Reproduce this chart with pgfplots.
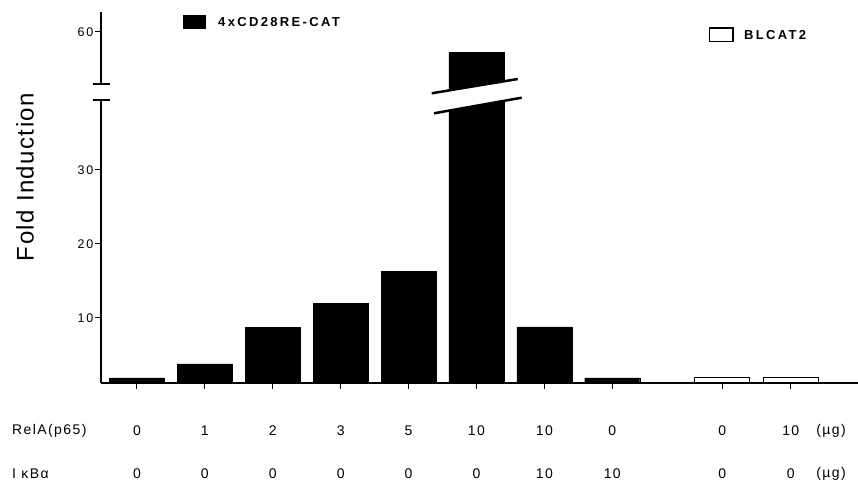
\documentclass[border=0pt]{standalone}
\usepackage{fontspec}
\setmainfont{Liberation Sans}
\usepackage{pgfplots}
\pgfplotsset{compat=1.18}
\newfontfamily\legfont[LetterSpace=18]{Liberation Sans Bold}
\newfontfamily\tickfont[LetterSpace=15]{Liberation Sans}
\newfontfamily\labfont[LetterSpace=10]{Liberation Sans}
\newfontfamily\ylabfont[LetterSpace=6]{Liberation Sans}
\begin{document}
\begin{tikzpicture}[x=1pt,y=1pt]
\path[use as bounding box] (0,0) rectangle (858,488);
\begin{axis}[
  at={(101pt,105pt)}, anchor=south west,
  scale only axis, width=757pt, height=371pt,
  xmin=-0.53, xmax=10.62,
  ymin=1.2, ymax=62.7,
  y coord trafo/.code={\pgfmathparse{ifthenelse(#1>45,#1-11.34,#1)}},
  y coord inv trafo/.code={\pgfmathparse{ifthenelse(#1>40.5,#1+11.34,#1)}},
  axis x line*=bottom, axis y line*=left,
  axis line style={line width=1.4pt},
  tick align=outside, major tick length=6pt,
  tick style={black, line width=1pt},
  ytick={10,20,30,60}, yticklabels={10,20,30,60},
  yticklabel style={font=\tickfont\fontsize{12.5}{14}\selectfont, inner sep=1.5pt},
  xtick={0,1,2,3,4,5,6,7,8.62,9.63},
  xticklabels={{0\\0},{1\\0},{2\\0},{3\\0},{5\\0},{10\\0},{10\\10},{0\\10},{0\\0},{10\\0}},
  xticklabel style={align=center, font=\labfont\fontsize{14}{43}\selectfont, yshift=-33pt},
  /pgf/number format/assume math mode=true,
  clip=true,
]
\addplot[ybar, bar shift=0pt, bar width=55pt, fill=black, draw=black]
  coordinates {(0,1.9) (1,3.8) (2,8.7) (3,12.0) (4,16.3) (5,57.2) (6,8.8) (7,1.9)};
\addplot[ybar, bar shift=0pt, bar width=55pt, fill=white, draw=black, line width=1.2pt]
  coordinates {(8.62,1.9) (9.63,1.9)};
\end{axis}
% axis break on y axis
\fill[white] (95,389) rectangle (108,403);
\draw[line width=2pt] (93,404) -- (110,404);
\draw[line width=2pt] (93,388) -- (110,388);
% break in the tall bar
\fill[white] (431.7,394.7) -- (517.7,409) -- (521.7,390.3) -- (434,374.7) -- cycle;
\draw[line width=2.5pt] (431.7,394.7) -- (517.7,409);
\draw[line width=2.5pt] (434,374.7) -- (521.7,390.3);
% legend
\fill (183,458.7) rectangle (206,473);
\node[anchor=west, inner sep=0pt, font=\legfont\fontsize{13}{15}\selectfont] at (218,466) {4xCD28RE-CAT};
\draw[line width=1.2pt] (709.5,446.5) rectangle (733,460);
\node[anchor=west, inner sep=0pt, font=\legfont\fontsize{13}{15}\selectfont] at (744,453) {BLCAT2};
% y label
\node[rotate=90, font=\ylabfont\fontsize{24}{28}\selectfont] at (25,311) {Fold Induction};
% row labels
\node[anchor=west, inner sep=0pt, font=\labfont\fontsize{14}{16}\selectfont] at (12,57) {RelA(p65)};
\node[anchor=west, inner sep=0pt, font=\labfont\fontsize{14}{16}\selectfont] at (12,14) {I κBα};
\node[font=\labfont\fontsize{14}{16}\selectfont] at (831,57) {(µg)};
\node[font=\labfont\fontsize{14}{16}\selectfont] at (831,14) {(µg)};
\end{tikzpicture}
\end{document}
